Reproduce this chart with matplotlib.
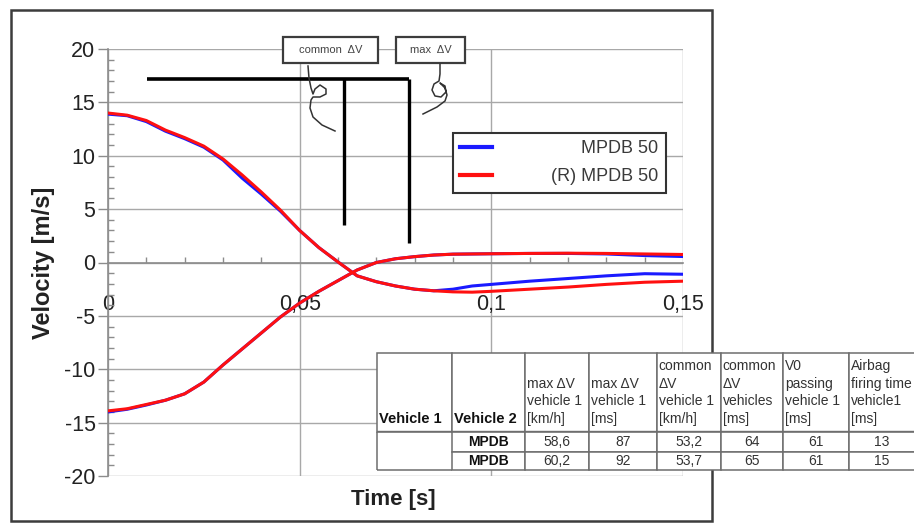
import matplotlib
matplotlib.use("Agg")
import matplotlib.pyplot as plt
from matplotlib.patches import Rectangle
from matplotlib.lines import Line2D
from matplotlib.ticker import MultipleLocator, FuncFormatter, FixedLocator

plt.rcParams["font.family"] = ["Liberation Sans", "DejaVu Sans"]

# ---- velocity traces [m/s] over time [s] ----
time = [0.000, 0.005, 0.010, 0.015, 0.020, 0.025, 0.030, 0.035, 0.040, 0.045,
        0.050, 0.055, 0.060, 0.065, 0.070, 0.075, 0.080, 0.085, 0.090, 0.095,
        0.100, 0.110, 0.120, 0.130, 0.140, 0.150]

veh1_mpdb = [13.9, 13.75, 13.2, 12.3, 11.6, 10.8, 9.6, 7.9, 6.4, 4.8,
             3.0, 1.4, 0.05, -1.25, -1.8, -2.2, -2.5, -2.65, -2.5, -2.2,
             -2.05, -1.75, -1.5, -1.25, -1.05, -1.1]
veh1_mpdb_r = [14.0, 13.8, 13.3, 12.4, 11.7, 10.9, 9.7, 8.2, 6.6, 4.9,
               3.0, 1.4, 0.05, -1.25, -1.8, -2.2, -2.5, -2.65, -2.75, -2.78,
               -2.7, -2.5, -2.3, -2.05, -1.85, -1.75]

veh2_mpdb = [-14.0, -13.75, -13.35, -12.9, -12.3, -11.2, -9.6, -8.1, -6.6, -5.1,
             -3.8, -2.7, -1.7, -0.7, 0.0, 0.35, 0.55, 0.7, 0.78, 0.8,
             0.82, 0.85, 0.85, 0.8, 0.65, 0.56]
veh2_mpdb_r = [-13.9, -13.7, -13.3, -12.9, -12.3, -11.2, -9.6, -8.1, -6.6, -5.1,
               -3.8, -2.7, -1.7, -0.7, 0.0, 0.35, 0.55, 0.7, 0.78, 0.8,
               0.82, 0.85, 0.87, 0.85, 0.8, 0.75]

series_labels = ["MPDB 50", "(R) MPDB 50"]

# ---- results table ----
table_header = ["\n\n\nVehicle 1", "\n\n\nVehicle 2",
                "\nmax \u0394V\nvehicle 1\n[km/h]", "\nmax \u0394V\nvehicle 1\n[ms]",
                "common\n\u0394V\nvehicle 1\n[km/h]", "common\n\u0394V\nvehicles\n[ms]",
                "V0\npassing\nvehicle 1\n[ms]", "Airbag\nfiring time\nvehicle1\n[ms]"]
vehicle_2 = ["MPDB", "MPDB"]
max_dv_kmh = [58.6, 60.2]
max_dv_ms = [87, 92]
common_dv_kmh = [53.2, 53.7]
common_dv_ms = [64, 65]
v0_passing_ms = [61, 61]
airbag_fire_ms = [13, 15]

# annotation markers (data coordinates)
marker_level = 17.15
marker_start = 0.0102
common_dv_t, common_dv_end = 0.0615, 3.5
max_dv_t, max_dv_end = 0.0786, 1.8

W, H = 914, 527
fig = plt.figure(figsize=(W / 100, H / 100), dpi=100)


def fx(x):
    return x / W


def fy(y):
    return 1 - y / H


# outer chart frame
fig.add_artist(Rectangle((fx(11), fy(521)), fx(712) - fx(11), fy(10) - fy(521),
                         transform=fig.transFigure, fill=False,
                         edgecolor="#3c3c3c", lw=1.8, zorder=0.5))

ax = fig.add_axes([fx(108), fy(476), fx(683) - fx(108), fy(49) - fy(476)])
ax.set_xlim(0, 0.15)
ax.set_ylim(-20, 20)

grid_c = "#a8a8a8"
ax.xaxis.set_major_locator(FixedLocator([0, 0.05, 0.1, 0.15]))
ax.yaxis.set_major_locator(MultipleLocator(5))
ax.xaxis.set_minor_locator(MultipleLocator(0.01))
ax.yaxis.set_minor_locator(MultipleLocator(1))
ax.grid(True, which="major", color=grid_c, lw=1.0)
ax.set_axisbelow(True)

comma = FuncFormatter(lambda v, p: ("%g" % v).replace(".", ","))
ax.xaxis.set_major_formatter(comma)
ax.yaxis.set_major_formatter(comma)

for s in ("top", "right"):
    ax.spines[s].set_visible(False)
ax.spines["bottom"].set_position(("data", 0))
for s in ("left", "bottom"):
    ax.spines[s].set_color("#8c8c8c")
    ax.spines[s].set_linewidth(1.2)

ax.tick_params(axis="y", which="major", direction="out", length=7, width=1,
               color="#8c8c8c", labelsize=15.5, pad=2, labelcolor="#222222")
ax.tick_params(axis="y", which="minor", direction="in", length=4, width=1, color="#8c8c8c")
ax.tick_params(axis="x", which="major", length=0, pad=23, labelsize=15.5,
               labelcolor="#222222")
ax.tick_params(axis="x", which="minor", direction="in", length=4, width=1, color="#8c8c8c")

ax.set_ylabel("Velocity [m/s]", fontsize=17, fontweight="bold", color="#222222")
ax.yaxis.set_label_coords(-0.092, 0.5)
ax.set_xlabel("Time [s]", fontsize=16, fontweight="bold", color="#222222")
ax.xaxis.set_label_coords(0.496, -0.03)

blue, red = "#1a1aff", "#ff1010"
ax.plot(time, veh1_mpdb, color=blue, lw=2.2, label=series_labels[0], zorder=3)
ax.plot(time, veh2_mpdb, color=blue, lw=2.2, zorder=3)
ax.plot(time, veh1_mpdb_r, color=red, lw=2.2, label=series_labels[1], zorder=4)
ax.plot(time, veh2_mpdb_r, color=red, lw=2.2, zorder=4)

# common / max delta-V markers
ax.plot([marker_start, max_dv_t], [marker_level, marker_level], color="black",
        lw=2.6, solid_capstyle="butt", zorder=5)
ax.plot([common_dv_t, common_dv_t], [marker_level, common_dv_end], color="black",
        lw=2.4, solid_capstyle="butt", zorder=5)
ax.plot([max_dv_t, max_dv_t], [marker_level, max_dv_end], color="black",
        lw=2.4, solid_capstyle="butt", zorder=5)

# legend (leading blanks keep the labels flush right)
handles = [Line2D([], [], color=blue, lw=3), Line2D([], [], color=red, lw=3)]
labels = ["         " + series_labels[0], "   " + series_labels[1]]
leg = ax.legend(handles, labels, loc="upper left",
                bbox_to_anchor=(fx(453), fy(133)), bbox_transform=fig.transFigure,
                fontsize=13, handlelength=1.75, handletextpad=2.45, labelspacing=0.62,
                borderpad=0.4, borderaxespad=0, frameon=True, fancybox=False,
                framealpha=1, edgecolor="#333333")
leg.get_frame().set_linewidth(1.5)
for t in leg.get_texts():
    t.set_color("#3a3a3a")
leg.set_zorder(6)

# callout boxes above the plot
for (x0, x1, txt) in [(283, 378, "common  \u0394V"), (396, 465, "max  \u0394V")]:
    fig.add_artist(Rectangle((fx(x0), fy(63)), fx(x1) - fx(x0), fy(37) - fy(63),
                             transform=fig.transFigure, facecolor="white",
                             edgecolor="#3c3c3c", lw=1.6, zorder=7))
    fig.text(fx((x0 + x1) / 2), fy(50), txt, ha="center", va="center",
             fontsize=8, color="#444444", zorder=8)

# hand-drawn pointers
squiggle_a = [(308, 66), (309, 78), (311, 88), (313, 94), (315, 89), (320, 85),
              (326, 89), (326, 94), (320, 97), (313, 97), (311, 100), (310, 108),
              (313, 117), (322, 125), (335, 131)]
squiggle_b = [(440, 64), (440, 74), (439, 81), (434, 84), (432, 90), (435, 96),
              (441, 97), (446, 92), (445, 86), (440, 83), (445, 88), (447, 95),
              (445, 101), (437, 107), (423, 114)]
for pts in (squiggle_a, squiggle_b):
    fig.add_artist(Line2D([fx(p[0]) for p in pts], [fy(p[1]) for p in pts],
                          transform=fig.transFigure, color="#333333", lw=1.1,
                          solid_joinstyle="round", zorder=8))

# results table
def dec(v):
    return ("%.1f" % v).replace(".", ",")


rows = [table_header]
for i in range(len(vehicle_2)):
    rows.append(["", vehicle_2[i], dec(max_dv_kmh[i]), str(max_dv_ms[i]),
                 dec(common_dv_kmh[i]), str(common_dv_ms[i]),
                 str(v0_passing_ms[i]), str(airbag_fire_ms[i])])

col_px = [74.6, 73, 64.3, 67.7, 64.2, 62.3, 66, 66]
tax = fig.add_axes([fx(377), fy(470), fx(377 + sum(col_px)) - fx(377), fy(353) - fy(470)])
tax.set_zorder(9)
tax.axis("off")
tab = tax.table(cellText=rows, colWidths=[c / sum(col_px) for c in col_px],
                cellLoc="center", bbox=[0, 0, 1, 1])
tab.auto_set_font_size(False)
tab.set_fontsize(10)
row_px = [79, 20, 18]
for (r, c), cell in tab.get_celld().items():
    cell.set_height(row_px[r])
    cell.set_edgecolor("#6e6e6e")
    cell.set_linewidth(1.1)
    cell.set_facecolor("white")
    txt = cell.get_text()
    txt.set_color("#333333")
    if r == 0:
        cell.PAD = 0.03
        txt.set_ha("left")
        txt.set_linespacing(1.32)
        if c < 2:
            txt.set_fontweight("bold")
            txt.set_fontsize(10.5)
            txt.set_color("#111111")
    else:
        if c == 1:
            txt.set_fontweight("bold")
            txt.set_color("#111111")
        if c == 0:
            cell.visible_edges = "L" if r == 1 else "LB"

# double rule under the header
tax.plot([0, 1], [1 - 79 / 117 + 0.012, 1 - 79 / 117 + 0.012], transform=tax.transAxes,
         color="#6e6e6e", lw=1.0, zorder=10, clip_on=False)

fig.savefig("out.png", dpi=100)
